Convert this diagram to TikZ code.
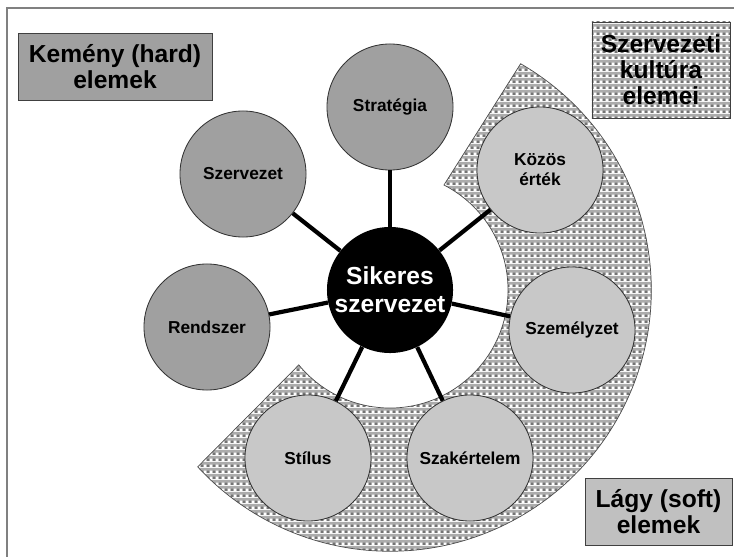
\documentclass[tikz,border=0pt]{standalone}
\usepackage{fontspec}
\setmainfont{Liberation Sans}
\usetikzlibrary{calc,patterns}
\definecolor{hardgray}{HTML}{A0A0A0}
\definecolor{softgray}{HTML}{C8C8C8}
\definecolor{softbox}{HTML}{C0C0C0}
\definecolor{pattbg}{HTML}{ACACAC}
\definecolor{pattdark}{HTML}{747474}
\pgfdeclarepatterninherentlycolored{kockas}{\pgfpointorigin}{\pgfpoint{4.27pt}{4.27pt}}{\pgfpoint{4.27pt}{4.27pt}}{%
  \pgfsetfillcolor{pattbg}\pgfpathrectangle{\pgfpointorigin}{\pgfpoint{4.27pt}{4.27pt}}\pgfusepath{fill}%
  \pgfsetfillcolor{white}\pgfpathrectangle{\pgfpoint{0.2pt}{0.2pt}}{\pgfpoint{1.75pt}{1.75pt}}\pgfusepath{fill}%
  \pgfsetfillcolor{pattdark}\pgfpathrectangle{\pgfpoint{2.33pt}{0.2pt}}{\pgfpoint{1.75pt}{1.75pt}}\pgfusepath{fill}%
}

\begin{document}
\begin{tikzpicture}[x=0.025cm,y=-0.025cm,
  kor/.style={circle,draw=black!80,line width=0.6pt,minimum size=3.15cm,inner sep=0pt,
    align=center,font=\fontsize{12.3}{14.2}\selectfont\bfseries},
  kemeny/.style={kor,fill=hardgray},
  lagy/.style={kor,fill=softgray},
  kozep/.style={circle,fill=black,minimum size=3.15cm,inner sep=0pt,align=center,
    text=white,font=\fontsize{17.5}{20}\selectfont\bfseries},
  cimke/.style={draw=black!75,line width=0.6pt,align=center,inner sep=0pt,
    font=\fontsize{17.5}{18.5}\selectfont\bfseries},
  kullo/.style={line width=3pt}]
  \useasboundingbox (0,0) rectangle (734,557);
  \draw[gray,line width=1.2pt] (7,580) -- (7,8) -- (760,8);

  \coordinate (hub) at (390,290);
  \draw[pattern=kockas,draw=black!70,line width=0.5pt]
    ($(hub)+(60:6.53cm)$) arc[start angle=60,end angle=-137.4,radius=6.53cm]
    -- ($(hub)+(-140.6:2.95cm)$) arc[start angle=-140.6,end angle=62.8,radius=2.95cm] -- cycle;

  \node[kemeny] (strategia)   at (390,107) {Stratégia};
  \node[kemeny] (szervezet)   at (243,174) {Szervezet};
  \node[kemeny] (rendszer)    at (207,327) {Rendszer};
  \node[lagy]   (ertek)       at (540,170) {Közös\\érték};
  \node[lagy]   (szemelyzet)  at (572,330) {Személyzet};
  \node[lagy]   (szakertelem) at (470,458) {Szakértelem};
  \node[lagy]   (stilus)      at (308,458) {Stílus};
  \node[kozep]  (siker)       at (hub)     {Sikeres\\szervezet};

  \foreach \k in {strategia,szervezet,rendszer,ertek,szemelyzet,szakertelem,stilus}
    \draw[kullo] (siker) -- (\k);

  \node[cimke,fill=hardgray,minimum width=4.85cm,minimum height=1.675cm] (hardcim) at (115,66.5) {Kemény (hard)\\elemek};
  \node[cimke,pattern=kockas,minimum width=3.45cm,minimum height=2.4cm] (kulturacim) at (661,70) {Szervezeti\\kultúra\\elemei};
  \node[cimke,fill=softbox,minimum width=3.675cm,minimum height=1.675cm] (softcim) at (658.5,511.5) {Lágy (soft)\\elemek};
\end{tikzpicture}
\end{document}
